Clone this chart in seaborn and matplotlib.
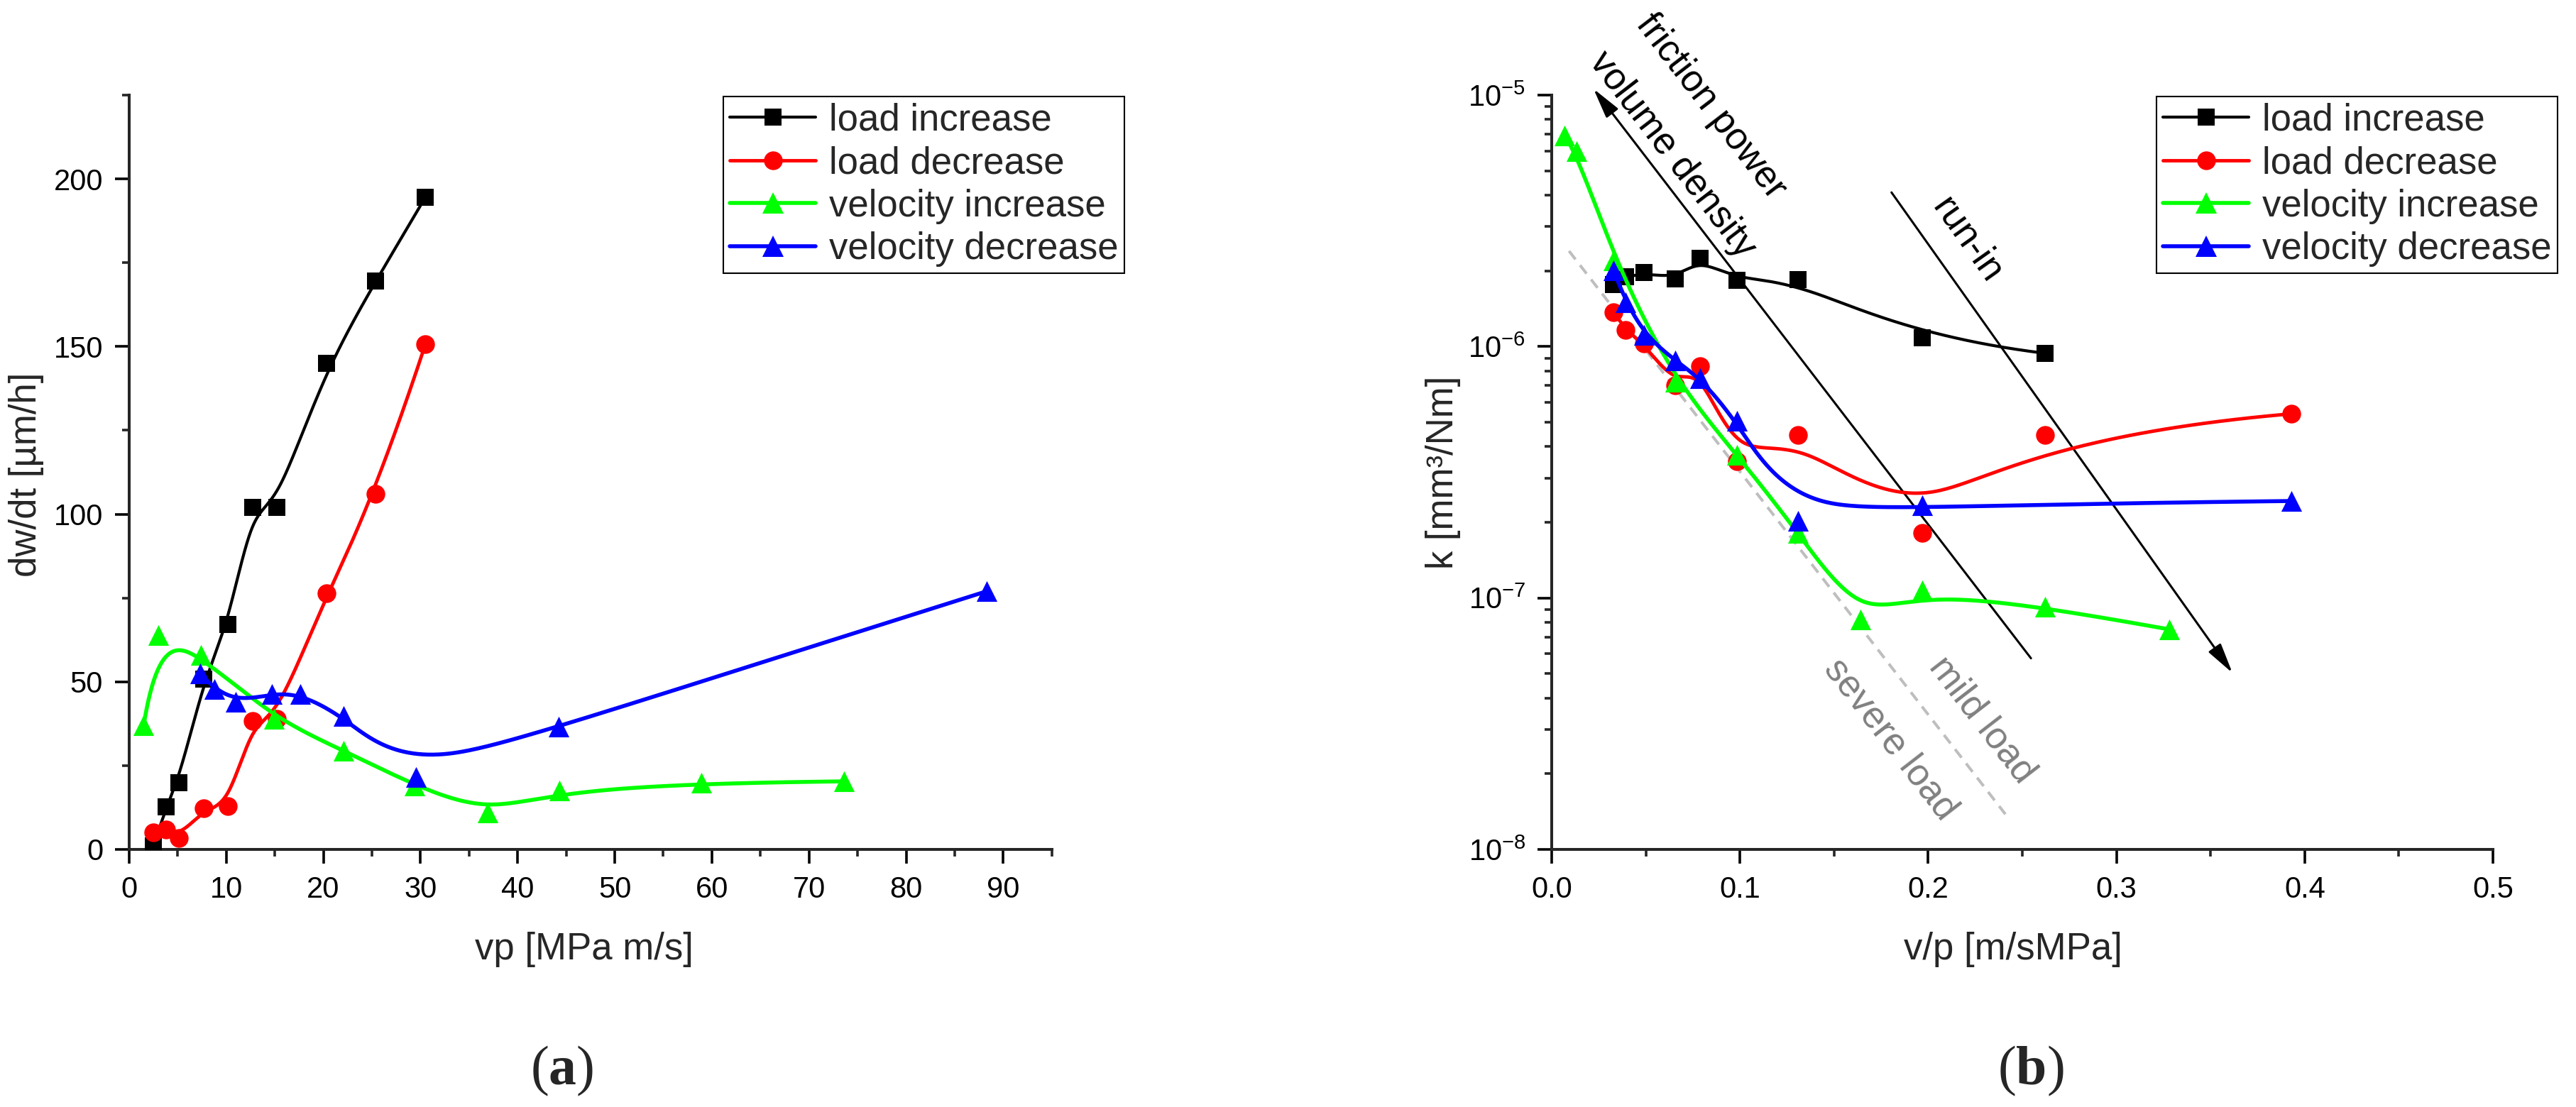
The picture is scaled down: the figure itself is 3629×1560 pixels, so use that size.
import numpy as np
import pandas as pd
import matplotlib
matplotlib.use("Agg")
import matplotlib.pyplot as plt
import seaborn as sns
from matplotlib.lines import Line2D
from matplotlib.ticker import MultipleLocator, LogLocator, FuncFormatter, NullFormatter, FormatStrFormatter

# ---------------- panel (a) data ----------------
vp_load = [2.5, 3.8, 5.1, 7.7, 10.2, 12.7, 15.2, 20.3, 25.4, 30.5]
dwdt_load_inc = [1.0, 12.7, 19.9, 50.8, 67.0, 102.0, 102.0, 145.0, 169.5, 194.5]
dwdt_load_dec = [5.0, 6.0, 3.3, 12.2, 13.0, 38.3, 39.0, 76.5, 106.0, 150.6]
vp_vel_inc = [1.5, 3.0, 7.4, 14.9, 22.1, 29.4, 36.9, 44.3, 58.9, 73.6]
dwdt_vel_inc = [37.0, 64.0, 58.0, 39.0, 29.5, 19.0, 11.0, 17.5, 19.8, 20.3]
vp_vel_dec = [7.3, 8.8, 11.0, 14.7, 17.6, 22.1, 29.5, 44.2, 88.3]
dwdt_vel_dec = [52.5, 47.8, 44.0, 46.4, 46.4, 39.7, 21.5, 36.7, 77.0]

# ---------------- panel (b) data ----------------
vop_load = [0.0328, 0.0394, 0.0492, 0.0656, 0.0787, 0.0984, 0.131, 0.197, 0.262]
k_load_inc = [1.76e-6, 1.90e-6, 1.97e-6, 1.86e-6, 2.24e-6, 1.83e-6, 1.84e-6, 1.08e-6, 0.94e-6]
vop_load_dec = [0.0328, 0.0394, 0.0492, 0.0656, 0.0787, 0.0984, 0.131, 0.197, 0.262, 0.393]
k_load_dec = [1.37e-6, 1.16e-6, 1.03e-6, 7.0e-7, 8.35e-7, 3.5e-7, 4.45e-7, 1.82e-7, 4.45e-7, 5.4e-7]
vop_vel_inc = [0.0067, 0.0131, 0.0328, 0.0656, 0.0984, 0.131, 0.164, 0.197, 0.262, 0.328]
k_vel_inc = [6.9e-6, 6.0e-6, 2.2e-6, 7.26e-7, 3.72e-7, 1.82e-7, 8.2e-8, 1.07e-7, 9.2e-8, 7.5e-8]
vop_vel_dec = [0.0328, 0.0394, 0.0492, 0.0656, 0.0787, 0.0984, 0.131, 0.197, 0.393]
k_vel_dec = [2.01e-6, 1.5e-6, 1.11e-6, 8.8e-7, 7.5e-7, 5.05e-7, 2.03e-7, 2.34e-7, 2.43e-7]

series_labels = ["load increase", "load decrease", "velocity increase", "velocity decrease"]
series_colors = ["#000000", "#ff0000", "#00ff00", "#0000ff"]
series_markers = ["s", "o", "^", "^"]

# annotation geometry in panel (b) (data coords)
dash_x = [0.0092, 0.241]
dash_k = [10 ** -5.62, 10 ** -7.86]
arrow_vd_x = [0.2546, 0.0222]        # tail -> head
arrow_vd_k = [10 ** -7.24, 10 ** -4.975]
arrow_run_x = [0.1805, 0.3616]
arrow_run_k = [10 ** -5.387, 10 ** -7.298]


def bspline_curve(px, py, n_samples=600, k=3):
    """Clamped uniform B-spline using the data points as control points."""
    P = np.column_stack([px, py]).astype(float)
    n = len(P)
    k = min(k, n - 1)
    t = np.concatenate([np.zeros(k + 1), np.arange(1, n - k), np.full(k + 1, n - k)]).astype(float)
    u = np.linspace(0, n - k, n_samples)
    u[-1] -= 1e-9
    N = np.zeros((n_samples, len(t) - 1))
    for i in range(len(t) - 1):
        N[:, i] = ((u >= t[i]) & (u < t[i + 1])).astype(float)
    for d in range(1, k + 1):
        Nn = np.zeros((n_samples, len(t) - 1 - d))
        for i in range(len(t) - 1 - d):
            den1 = t[i + d] - t[i]
            den2 = t[i + d + 1] - t[i + 1]
            a = (u - t[i]) / den1 * N[:, i] if den1 > 0 else 0.0
            b = (t[i + d + 1] - u) / den2 * N[:, i + 1] if den2 > 0 else 0.0
            Nn[:, i] = a + b
        N = Nn
    C = N @ P
    return C[:, 0], C[:, 1]


sns.set_style("ticks")
plt.rcParams["font.family"] = ["Liberation Sans", "DejaVu Sans"]
plt.rcParams["mathtext.fontset"] = "custom"
plt.rcParams["mathtext.rm"] = "Liberation Serif"
plt.rcParams["mathtext.bf"] = "Liberation Serif:bold"

fig = plt.figure(figsize=(36.3, 15.6), dpi=100)
axA = fig.add_axes([0.0501, 0.2327, 0.3581, 0.6814])
axB = fig.add_axes([0.6022, 0.2327, 0.3653, 0.6814])

line_w = [3.0, 3.5, 4.0, 4.0]
marker_s = [17.5, 19.0, 21.0, 21.0]

# ---------------- panel (a) ----------------
a_series = [(vp_load, dwdt_load_inc), (vp_load, dwdt_load_dec),
            (vp_vel_inc, dwdt_vel_inc), (vp_vel_dec, dwdt_vel_dec)]
for i, (xv, yv) in enumerate(a_series):
    xs, ys = bspline_curve(xv, yv)
    sns.lineplot(x=xs, y=ys, ax=axA, color=series_colors[i], linewidth=line_w[i],
                 sort=False, estimator=None, zorder=3 + 2 * i, legend=False)
    sns.scatterplot(x=xv, y=yv, ax=axA, marker=series_markers[i], s=marker_s[i] ** 2,
                    color=series_colors[i], edgecolor=series_colors[i], linewidth=0,
                    zorder=4 + 2 * i, legend=False)

axA.set_xlim(0, 95)
axA.set_ylim(0, 225)
axA.set_xticks(np.arange(0, 91, 10))
axA.set_yticks(np.arange(0, 201, 50))
axA.xaxis.set_minor_locator(MultipleLocator(5))
axA.yaxis.set_minor_locator(MultipleLocator(25))

# ---------------- panel (b) ----------------
axB.set_yscale("log")
b_series = [(vop_load, k_load_inc), (vop_load_dec, k_load_dec),
            (vop_vel_inc, k_vel_inc), (vop_vel_dec, k_vel_dec)]
for i, (xv, yv) in enumerate(b_series):
    xs, ly = bspline_curve(xv, np.log10(yv))
    sns.lineplot(x=xs, y=10 ** ly, ax=axB, color=series_colors[i], linewidth=line_w[i],
                 sort=False, estimator=None, zorder=3 + 2 * i, legend=False)
    sns.scatterplot(x=xv, y=yv, ax=axB, marker=series_markers[i], s=marker_s[i] ** 2,
                    color=series_colors[i], edgecolor=series_colors[i], linewidth=0,
                    zorder=4 + 2 * i, legend=False)

axB.set_xlim(0, 0.5)
axB.set_ylim(1e-8, 1e-5)
axB.set_xticks(np.arange(0, 0.51, 0.1))
axB.xaxis.set_major_formatter(FormatStrFormatter("%.1f"))
axB.xaxis.set_minor_locator(MultipleLocator(0.05))
axB.yaxis.set_major_locator(LogLocator(base=10, numticks=10))
axB.yaxis.set_minor_locator(LogLocator(base=10, subs=np.arange(2, 10), numticks=20))
axB.yaxis.set_minor_formatter(NullFormatter())
axB.yaxis.set_major_formatter(FuncFormatter(lambda v, p: r"$\mathdefault{10^{%d}}$" % round(np.log10(v))))

# common axis styling
for ax in (axA, axB):
    sns.despine(ax=ax)
    for sp in ("left", "bottom"):
        ax.spines[sp].set_linewidth(2.9)
    ax.tick_params(which="major", direction="out", length=14.5, width=2.6, pad=12, labelsize=30, colors="black")
    ax.tick_params(which="minor", direction="out", length=7.5, width=2.6)
    ax.set_facecolor("white")

axA.set_xlabel("vp [MPa m/s]", fontsize=38, va="center")
axA.set_ylabel("dw/dt [µm/h]", fontsize=38, va="center")
axA.xaxis.set_label_coords(0.493, -0.1327)
axA.yaxis.set_label_coords(-0.1115, 0.497)
axB.set_xlabel("v/p [m/sMPa]", fontsize=38, va="center")
axB.set_ylabel("k [mm³/Nm]", fontsize=38, va="center")
axB.xaxis.set_label_coords(0.49, -0.1327)
axB.yaxis.set_label_coords(-0.115, 0.5)

# annotations in panel (b)
axB.plot(dash_x, dash_k, color="#bebebe", lw=2.9, dashes=(3.7, 2.6), zorder=2)
arrow_kw = dict(arrowstyle="-|>,head_length=0.65,head_width=0.16", color="black", lw=2.2,
                mutation_scale=40, shrinkA=0, shrinkB=0)
axB.annotate("", xy=(arrow_vd_x[1], arrow_vd_k[1]), xytext=(arrow_vd_x[0], arrow_vd_k[0]),
             arrowprops=arrow_kw, annotation_clip=False, zorder=2)
axB.annotate("", xy=(arrow_run_x[1], arrow_run_k[1]), xytext=(arrow_run_x[0], arrow_run_k[0]),
             arrowprops=arrow_kw, annotation_clip=False, zorder=2)


def screen_angle(ax, xs, ys):
    p0 = ax.transData.transform((xs[0], ys[0]))
    p1 = ax.transData.transform((xs[1], ys[1]))
    ang = np.degrees(np.arctan2(p1[1] - p0[1], p1[0] - p0[0]))
    if ang > 90:
        ang -= 180
    if ang < -90:
        ang += 180
    return ang


ang_vd = screen_angle(axB, arrow_vd_x, arrow_vd_k)
ang_run = screen_angle(axB, arrow_run_x, arrow_run_k)
ang_dash = screen_angle(axB, dash_x, dash_k)
txt_kw = dict(ha="center", va="center", rotation_mode="anchor", fontsize=38, clip_on=False)
axB.text(0.0845, 10 ** -5.045, "friction power", rotation=ang_vd, color="black", **txt_kw)
axB.text(0.064, 10 ** -5.237, "volume density", rotation=ang_vd, color="black", **txt_kw)
axB.text(0.2206, 10 ** -5.576, "run-in", rotation=ang_run, color="black", **txt_kw)
axB.text(0.180, 10 ** -7.562, "severe load", rotation=ang_dash, color="#808080", **txt_kw)
axB.text(0.2287, 10 ** -7.485, "mild load", rotation=ang_dash, color="#808080", **txt_kw)

# legends
handles = [Line2D([], [], color=series_colors[i], lw=line_w[i], marker=series_markers[i],
                  markersize=marker_s[i], markerfacecolor=series_colors[i], markeredgewidth=0)
           for i in range(4)]
for ax, left in ((axA, 0.2807), (axB, 0.8369)):
    leg = ax.legend(handles, series_labels, loc="upper left", bbox_to_anchor=(left, 0.913),
                    bbox_transform=fig.transFigure, fontsize=38, frameon=True, fancybox=False,
                    borderpad=0.17, borderaxespad=0, handlelength=2.3, handletextpad=0.35,
                    labelspacing=0.2)
    fr = leg.get_frame()
    fr.set_edgecolor("black")
    fr.set_linewidth(1.5)
    fr.set_alpha(1)

fig.text(0.218, 0.0327, r"$\mathrm{(}\mathbf{a}\mathrm{)}$", fontsize=56, ha="center", va="center")
fig.text(0.788, 0.0327, r"$\mathrm{(}\mathbf{b}\mathrm{)}$", fontsize=56, ha="center", va="center")

fig.savefig("out.png", dpi=100, facecolor="white")
